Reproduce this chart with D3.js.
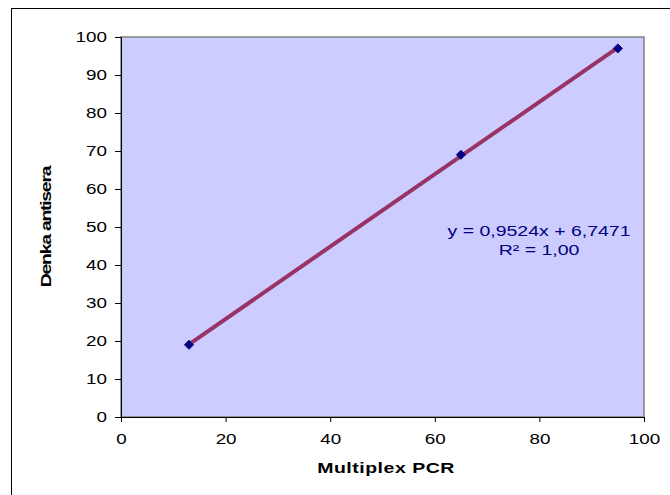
<!DOCTYPE html>
<html>
<head>
<meta charset="utf-8">
<script src="https://cdn.jsdelivr.net/npm/d3@7"></script>
<style>
  body { margin: 0; background: #fff; }
  text { font-family: "Liberation Sans", Arial, sans-serif; }
</style>
</head>
<body>
<script>
// data
const multiplexPCR = [13, 65, 95];
const denkaAntisera = [19, 69, 97];
const xTicks = [0, 20, 40, 60, 80, 100];
const yTicks = [0, 10, 20, 30, 40, 50, 60, 70, 80, 90, 100];
const equationLines = ["y = 0,9524x + 6,7471", "R² = 1,00"];

const w = 670, h = 495;
const stretch = 1.3; // the original text is drawn wide
const svg = d3.select("body").append("svg")
              .attr("width", w)
              .attr("height", h)

// chart frame
svg.append("rect")
   .attr("x", 11.5).attr("y", 8.5)
   .attr("width", 700).attr("height", 600)
   .attr("fill", "#fff")
   .attr("stroke", "#000")
   .attr("stroke-width", 1)

const plotL = 121, plotR = 644, plotT = 37, plotB = 417;

const x = d3.scaleLinear().domain([0, 100]).range([plotL, plotR]);
const y = d3.scaleLinear().domain([0, 100]).range([plotB, plotT]);

svg.append("rect")
   .attr("x", plotL).attr("y", plotT)
   .attr("width", plotR - plotL).attr("height", plotB - plotT)
   .attr("fill", "#ccccff")
   .attr("stroke", "#808080")
   .attr("stroke-width", 1.5)

const xAxis = svg.append("g")
                 .attr("transform", "translate(0," + plotB + ")")
                 .call(d3.axisBottom(x).tickValues(xTicks).tickSize(5))
const yAxis = svg.append("g")
                 .attr("transform", "translate(" + plotL + ",0)")
                 .call(d3.axisLeft(y).tickValues(yTicks).tickSize(6))

for (const ax of [xAxis, yAxis]) {
    ax.select(".domain").attr("stroke", "#000").attr("stroke-width", 1)
    ax.selectAll(".tick line").attr("stroke", "#000")
    ax.selectAll(".tick text")
      .style("font-family", "'Liberation Sans', Arial, sans-serif")
      .style("font-size", "14.5px")
      .attr("fill", "#000")
}
xAxis.selectAll(".tick text")
     .attr("y", 27).attr("dy", 0)
     .attr("transform", "scale(" + stretch + ",1)")
yAxis.selectAll(".tick text")
     .attr("x", -14 / stretch)
     .attr("transform", "scale(" + stretch + ",1)")

// least squares trendline over the data range
const mx = d3.mean(multiplexPCR), my = d3.mean(denkaAntisera);
let sxy = 0, sxx = 0;
multiplexPCR.forEach((v, i) => {
    sxy += (v - mx) * (denkaAntisera[i] - my);
    sxx += (v - mx) * (v - mx);
});
const slope = sxy / sxx, intercept = my - slope * mx;
const xMin = d3.min(multiplexPCR), xMax = d3.max(multiplexPCR);

svg.append("line")
   .attr("x1", x(xMin)).attr("y1", y(slope * xMin + intercept))
   .attr("x2", x(xMax)).attr("y2", y(slope * xMax + intercept))
   .attr("stroke", "#993366")
   .attr("stroke-width", 4)

svg.selectAll(".pt")
   .data(multiplexPCR)
   .enter()
   .append("path")
   .attr("class", "pt")
   .attr("d", d3.symbol(d3.symbolDiamond2, 52))
   .attr("transform", (d, i) => "translate(" + x(d) + "," + y(denkaAntisera[i]) + ")")
   .attr("fill", "#000080")
   .attr("stroke", "#000080")
   .attr("stroke-width", 1)

svg.append("g")
   .attr("transform", "translate(539,0) scale(" + stretch + ",1)")
   .selectAll("text")
   .data(equationLines)
   .enter()
   .append("text")
   .attr("x", 0)
   .attr("y", (d, i) => 236 + i * 19)
   .attr("text-anchor", "middle")
   .attr("fill", "#000080")
   .style("font-size", "15px")
   .text(d => d)

svg.append("g")
   .attr("transform", "translate(" + 386 + ",473) scale(" + stretch + ",1)")
   .append("text")
   .attr("text-anchor", "middle")
   .style("font-size", "15px")
   .style("font-weight", "bold")
   .style("letter-spacing", "0.4px")
   .text("Multiplex PCR")

svg.append("g")
   .attr("transform", "translate(51,227) rotate(-90) scale(" + stretch + ",1)")
   .append("text")
   .attr("text-anchor", "middle")
   .style("font-size", "15px")
   .style("font-weight", "bold")
   .style("letter-spacing", "-1px")
   .text("Denka antisera")
</script>
</body>
</html>
